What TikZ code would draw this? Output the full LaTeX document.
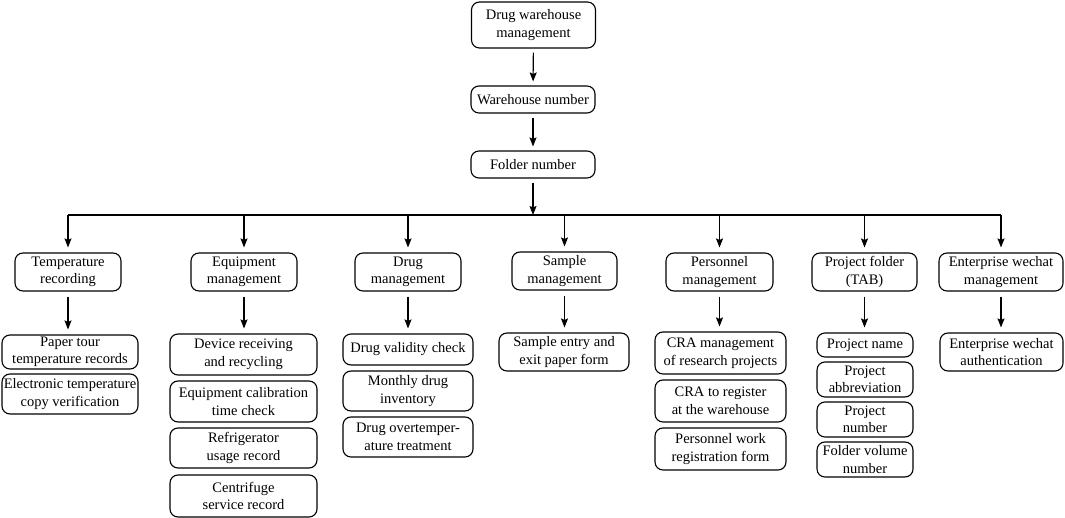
\documentclass[tikz,border=0pt]{standalone}
\usepackage{fontspec}
\setmainfont{Liberation Serif}
\usetikzlibrary{arrows.meta}
\begin{document}
\begin{tikzpicture}[x=1pt,y=-1pt,
  box/.style={draw, line width=1.1pt, rounded corners=8pt, align=center, inner sep=1pt,
    font=\fontsize{14.5}{17.5}\selectfont},
  arr/.style={line width=1.1pt, -{Stealth[length=9pt,width=7pt,inset=1.5pt]}},
  ln/.style={line width=1.1pt}]
\useasboundingbox (0,0) rectangle (1065,518);
% top chain
\node[box, minimum width=124pt, minimum height=46pt] (top) at (533.5,25) {Drug warehouse\\management};
\node[box, minimum width=124pt, minimum height=27pt] (wh) at (533,99.5) {Warehouse number};
\node[box, minimum width=124pt, minimum height=27pt] (fn) at (533,164.5) {Folder number};
\coordinate (busL) at (68,215);
\coordinate (busR) at (1001,215);
\coordinate (busM) at (533,215);
\draw[arr, shorten <=4pt, shorten >=4pt] (top) -- (wh);
\draw[arr, shorten <=4pt, shorten >=4pt] (wh) -- (fn);
\draw[arr, shorten <=4pt] (fn) -- (busM);
\draw[ln] (busL) -- (busR);
% level 2
\node[box, minimum width=106pt, minimum height=38pt] (t) at (68,272) {Temperature\\recording};
\node[box, minimum width=106pt, minimum height=38pt] (e) at (244,272) {Equipment\\management};
\node[box, minimum width=106pt, minimum height=38pt] (d) at (408,272) {Drug\\management};
\node[box, minimum width=105pt, minimum height=38pt] (s) at (564.5,271) {Sample\\management};
\node[box, minimum width=107pt, minimum height=38pt] (p) at (719.5,272) {Personnel\\management};
\node[box, minimum width=105pt, minimum height=38pt] (pf) at (864.5,272) {Project folder\\(TAB)};
\node[box, minimum width=124pt, minimum height=38pt] (ew) at (1001,272) {Enterprise wechat\\management};
\foreach \n in {t,e,d,s,p,pf,ew}{
  \draw[arr, shorten >=5pt] (\n.north |- busL) -- (\n.north);
}
% level 3
\node[box, minimum width=136pt, minimum height=34pt] (t1) at (70,352) {Paper tour\\temperature records};
\node[box, minimum width=136pt, minimum height=40pt] (t2) at (70,394) {Electronic temperature\\copy verification};
\node[box, minimum width=147pt, minimum height=41pt] (e1) at (243.5,354.5) {Device receiving\\and recycling};
\node[box, minimum width=147pt, minimum height=41pt] (e2) at (243.5,401.5) {Equipment calibration\\time check};
\node[box, minimum width=147pt, minimum height=40pt] (e3) at (243.5,448) {Refrigerator\\usage record};
\node[box, minimum width=147pt, minimum height=42pt] (e4) at (243.5,496) {Centrifuge\\service record};
\node[box, minimum width=130pt, minimum height=31pt] (d1) at (408,349.5) {Drug validity check};
\node[box, minimum width=130pt, minimum height=40pt] (d2) at (408,391) {Monthly drug\\inventory};
\node[box, minimum width=130pt, minimum height=40pt] (d3) at (408,437) {Drug overtemper-\\ature treatment};
\node[box, minimum width=130pt, minimum height=38pt] (s1) at (564,352) {Sample entry and\\exit paper form};
\node[box, minimum width=131pt, minimum height=42pt] (p1) at (720.5,353) {CRA management\\of research projects};
\node[box, minimum width=131pt, minimum height=42pt] (p2) at (720.5,401) {CRA to register\\at the warehouse};
\node[box, minimum width=131pt, minimum height=42pt] (p3) at (720.5,449) {Personnel work\\registration form};
\node[box, minimum width=96pt, minimum height=24pt] (pf1) at (865,345) {Project name};
\node[box, minimum width=96pt, minimum height=35pt] (pf2) at (865,379.5) {Project\\abbreviation};
\node[box, minimum width=96pt, minimum height=35pt] (pf3) at (865,419.5) {Project\\number};
\node[box, minimum width=96pt, minimum height=35pt] (pf4) at (865,459.5) {Folder volume\\number};
\node[box, minimum width=123pt, minimum height=38pt] (ew1) at (1001.5,352) {Enterprise wechat\\authentication};
% level 2 -> 3 arrows
\draw[arr, shorten <=5pt, shorten >=5pt] (t.south) -- (t.south |- t1.north);
\draw[arr, shorten <=5pt, shorten >=5pt] (e.south) -- (e.south |- e1.north);
\draw[arr, shorten <=5pt, shorten >=5pt] (d.south) -- (d.south |- d1.north);
\draw[arr, shorten <=5pt, shorten >=5pt] (s.south) -- (s.south |- s1.north);
\draw[arr, shorten <=5pt, shorten >=5pt] (p.south) -- (p.south |- p1.north);
\draw[arr, shorten <=5pt, shorten >=5pt] (pf.south) -- (pf.south |- pf1.north);
\draw[arr, shorten <=5pt, shorten >=5pt] (ew.south) -- (ew.south |- ew1.north);
\end{tikzpicture}
\end{document}
